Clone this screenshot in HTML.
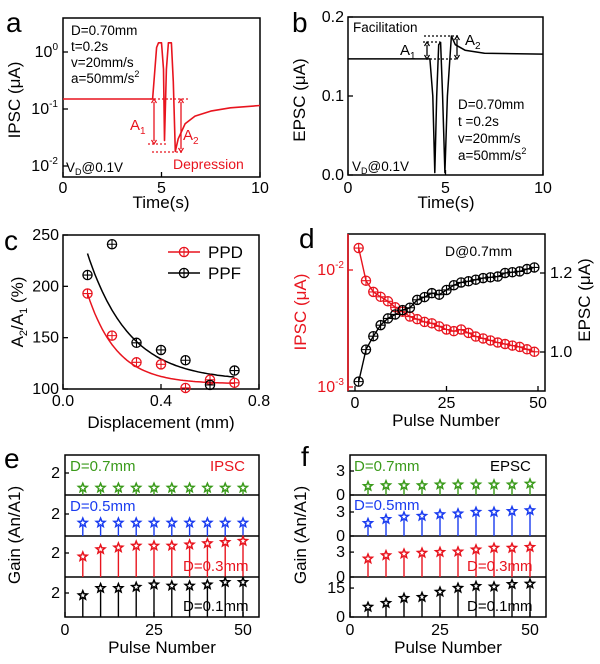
<!DOCTYPE html>
<html><head><meta charset="utf-8"><style>
html,body{margin:0;padding:0;background:#fff;}
svg{display:block;font-family:"Liberation Sans",Arial,sans-serif;}
</style></head><body>
<svg id="fig" width="600" height="664" viewBox="0 0 600 664"></svg>
<script>
// ---------- data ----------
const aTime=[0,4.55,4.75,4.85,5.0,5.1,5.15,5.25,5.35,5.5,5.6,5.7,5.85,6.2,6.7,7.5,8.5,10];
const aIPSC=[0.15,0.15,1.2,1.45,1.45,0.5,0.028,0.5,1.45,1.45,0.3,0.018,0.03,0.055,0.075,0.092,0.105,0.115];
const bTime=[0,4.2,4.35,4.45,4.55,4.65,4.75,4.85,4.97,5.1,5.3,5.5,6,7,10];
const bEPSC=[0.147,0.147,0.1,0.003,0.1,0.165,0.168,0.1,0.003,0.1,0.176,0.165,0.158,0.154,0.153];
const cDisp=[0.1,0.2,0.3,0.4,0.5,0.6,0.7];
const cPPD=[193,152,126,124,101,109,106];
const cPPF=[211,241,145,138,128,104,118];
const cFitPPD=[105,88,0.12];
const cFitPPF=[108,124,0.17];
const dPulse=[1,3,5,7,9,11,13,15,17,19,21,23,25,27,29,31,33,35,37,39,41,43,45,47,49];
const dIPSC=[0.0154,0.0081,0.0065,0.0059,0.0054,0.0048,0.0044,0.0040,0.0038,0.0036,0.0035,0.0033,0.0031,0.0030,0.0031,0.0029,0.0027,0.0026,0.0025,0.0024,0.00233,0.00226,0.0022,0.0021,0.0020];
const dEPSC=[0.925,1.006,1.04,1.068,1.085,1.095,1.106,1.112,1.132,1.139,1.149,1.145,1.157,1.169,1.176,1.179,1.183,1.187,1.189,1.191,1.2,1.202,1.204,1.21,1.214];
const gPulse=[5,10,15,20,25,30,35,40,45,50];
const eG07=[0.65,0.65,0.65,0.65,0.65,0.65,0.65,0.65,0.65,0.65];
const eG05=[1.2,1.2,1.2,1.2,1.2,1.2,1.2,1.2,1.2,1.2];
const eG03=[1.7,2.3,2.45,2.6,2.6,2.6,2.7,2.8,2.9,3.0];
const eG01=[1.8,2.4,2.4,2.5,2.7,2.6,2.6,2.7,2.9,2.9];
const fG07=[1.1,1.2,1.2,1.2,1.3,1.3,1.3,1.3,1.3,1.4];
const fG05=[1.6,2.1,2.4,2.5,2.7,2.8,3.0,3.0,3.1,3.2];
const fG03=[2.2,2.6,2.8,2.9,3.0,3.05,3.3,3.5,3.5,3.6];
const fG01=[5.2,7.2,9.8,10.3,13,15,16,15.7,17,17.2];

// ---------- helpers ----------
const NS="http://www.w3.org/2000/svg";
const svg=document.getElementById('fig');
const RED="#e8141e",GREEN="#3a9a1a",BLUE="#1a3cf0";
function el(tag,attrs,name,parent){
  const e=document.createElementNS(NS,tag);
  for(const k in attrs) e.setAttribute(k,attrs[k]);
  
  
  (parent||svg).appendChild(e);
  return e;
}
function txt(x,y,html,size,name,opt){
  opt=opt||{};
  const a={x:x,y:y,'font-size':size,fill:opt.fill||'#000','text-anchor':opt.anchor||'start'};
  if(opt.rot!==undefined) a.transform='rotate('+opt.rot+' '+x+' '+y+')';
  const t=el('text',a,name);
  t.innerHTML=html;
  return t;
}
const lin=(d0,d1,r0,r1)=>v=>r0+(v-d0)/(d1-d0)*(r1-r0);
function line(x1,y1,x2,y2,name,opt){opt=opt||{};
  return el('line',{x1:x1,y1:y1,x2:x2,y2:y2,stroke:opt.c||'#000','stroke-width':opt.w||1.3,'stroke-dasharray':opt.d||'none'},name);}
function frame(x0,y0,x1,y1,name){return el('rect',{x:x0,y:y0,width:x1-x0,height:y1-y0,fill:'none',stroke:'#000','stroke-width':1.5},name);}
function poly(xs,ys,sx,sy,color,name,w){
  const p=xs.map((x,i)=>sx(x).toFixed(1)+','+sy(ys[i]).toFixed(1)).join(' ');
  return el('polyline',{points:p,fill:'none',stroke:color,'stroke-width':w||1.6,'stroke-linejoin':'round'},name);
}
function cross(cx,cy,color,name){
  const g=el('g',{},name);
  el('circle',{cx:cx,cy:cy,r:4.6,fill:'none',stroke:color,'stroke-width':1.3},name+'-ring',g);
  el('path',{d:'M'+(cx-4.6)+' '+cy+'H'+(cx+4.6)+'M'+cx+' '+(cy-4.6)+'V'+(cy+4.6),stroke:color,'stroke-width':1.1},name+'-cross',g);
}
function star(cx,cy,color,name){
  let d='';
  for(let i=0;i<10;i++){const r=i%2?2:4.6;const a=-Math.PI/2+i*Math.PI/5;d+=(i?'L':'M')+(cx+r*Math.cos(a)).toFixed(1)+' '+(cy+r*Math.sin(a)).toFixed(1);}
  el('path',{d:d+'Z',fill:'#fff',stroke:color,'stroke-width':1.5},name);
}
function arrow(x,y1,y2,color,name){
  line(x,y1+3,x,y2-3,name,{c:color,w:1.3});
  el('path',{d:`M${x-2.5} ${y1+4}L${x} ${y1}L${x+2.5} ${y1+4}M${x-2.5} ${y2-4}L${x} ${y2}L${x+2.5} ${y2-4}`,fill:'none',stroke:color,'stroke-width':1.2},name+'-heads');
}
const TK=16, TT=17, PL=28;

// ---------- panel a ----------
txt(6,32,'a',PL,'panel-label-a');
const ax=lin(0,10,63,260); const ay=v=>52-Math.log10(v)*57;
frame(63,18,260,177,'panel-a-frame');
[0,5,10].forEach(v=>{line(ax(v),177,ax(v),172,'a-x-tick');txt(ax(v),193,v,TK,'a-x-tick-label',{anchor:'middle'});});
[0,-1,-2].forEach(p=>{line(63,ay(Math.pow(10,p)),68,ay(Math.pow(10,p)),'a-y-tick');txt(58,ay(Math.pow(10,p))+5,'10<tspan font-size="10" dy="-7">'+p+'</tspan>',TK,'a-y-tick-label',{anchor:'end'});});
poly(aTime,aIPSC,ax,ay,RED,'a-ipsc-curve');
txt(20,100,'IPSC (μA)',TT,'a-y-axis-title',{rot:-90,anchor:'middle'});
txt(161,208,'Time(s)',TT,'a-x-axis-title',{anchor:'middle'});
['D=0.70mm','t=0.2s','v=20mm/s','a=50mm/s<tspan font-size="9" dy="-6">2</tspan>'].forEach((s,i)=>txt(71,35+i*16,s,13.5,'a-condition-text'));
txt(66,172,'V<tspan font-size="9" dy="3">D</tspan><tspan dy="-3">@0.1V</tspan>',13.5,'a-vd-label');
line(150,99,188,99,'a-dotted-base',{c:RED,d:'2,2'});
line(148,144,167,144,'a-dotted-a1',{c:RED,d:'2,2'});
line(152,152,183,152,'a-dotted-a2',{c:RED,d:'2,2'});
arrow(154,99,144,RED,'a-arrow-a1');arrow(181,99,152,RED,'a-arrow-a2');
txt(130,130,'A<tspan font-size="10" dy="4">1</tspan>',15,'a-a1-label',{fill:RED});
txt(183,140,'A<tspan font-size="10" dy="4">2</tspan>',15,'a-a2-label',{fill:RED});
txt(173,169,'Depression',14,'a-depression-label',{fill:RED});

// ---------- panel b ----------
txt(292,32,'b',PL,'panel-label-b');
const bx=lin(0,10,348,543), by=lin(0,0.2,175,17);
frame(348,17,543,175,'panel-b-frame');
[0,5,10].forEach(v=>{line(bx(v),175,bx(v),170,'b-x-tick');txt(bx(v),193,v,TK,'b-x-tick-label',{anchor:'middle'});});
[0,0.1,0.2].forEach(v=>{line(348,by(v),353,by(v),'b-y-tick');txt(344,by(v)+5,v.toFixed(1),TK,'b-y-tick-label',{anchor:'end'});});
poly(bTime,bEPSC,bx,by,'#000','b-epsc-curve',1.5);
txt(305,100,'EPSC (μA)',TT,'b-y-axis-title',{rot:-90,anchor:'middle'});
txt(446,208,'Time(s)',TT,'b-x-axis-title',{anchor:'middle'});
txt(353,32,'Facilitation',13.5,'b-facilitation-label');
txt(400,55,'A<tspan font-size="10" dy="4">1</tspan>',15,'b-a1-label');
txt(465,45,'A<tspan font-size="10" dy="4">2</tspan>',15,'b-a2-label');
line(424,36,458,36,'b-dotted-a2',{d:'2,2'});line(423,42,440,42,'b-dotted-a1',{d:'2,2'});line(426,59,458,59,'b-dotted-base',{d:'2,2'});
arrow(427,42,59,'#000','b-arrow-a1');arrow(457,36,59,'#000','b-arrow-a2');
['D=0.70mm','t =0.2s','v=20mm/s','a=50mm/s<tspan font-size="9" dy="-6">2</tspan>'].forEach((s,i)=>txt(458,109+i*17,s,13.5,'b-condition-text'));
txt(352,171,'V<tspan font-size="9" dy="3">D</tspan><tspan dy="-3">@0.1V</tspan>',13.5,'b-vd-label');

// ---------- panel c ----------
txt(4,250,'c',PL,'panel-label-c');
const cx=lin(0,0.8,63,259), cy=lin(100,250,389,235);
frame(63,235,259,389,'panel-c-frame');
[0,0.4,0.8].forEach(v=>{line(cx(v),389,cx(v),384,'c-x-tick');txt(cx(v),406,v.toFixed(1),TK,'c-x-tick-label',{anchor:'middle'});});
[100,150,200,250].forEach(v=>{line(63,cy(v),68,cy(v),'c-y-tick');txt(59,cy(v)+5,v,TK,'c-y-tick-label',{anchor:'end'});});
function fitLine(p,color,name){const xs=[],ys=[];for(let x=0.1;x<=0.7001;x+=0.01){xs.push(x);ys.push(p[0]+p[1]*Math.exp(-(x-0.1)/p[2]));}poly(xs,ys,cx,cy,color,name,1.5);}
fitLine(cFitPPF,'#000','c-ppf-fit');fitLine(cFitPPD,RED,'c-ppd-fit');
cDisp.forEach((x,i)=>cross(cx(x),cy(cPPD[i]),RED,'c-ppd-point'));
cDisp.forEach((x,i)=>cross(cx(x),cy(cPPF[i]),'#000','c-ppf-point'));
line(168,252,200,252,'c-legend-ppd-line',{c:RED,w:1.6});cross(184,252,RED,'c-legend-ppd-marker');txt(208,258,'PPD',TT,'c-legend-ppd-label');
line(168,273,200,273,'c-legend-ppf-line',{w:1.6});cross(184,273,'#000','c-legend-ppf-marker');txt(208,279,'PPF',TT,'c-legend-ppf-label');
txt(23,312,'A<tspan font-size="11" dy="4">2</tspan><tspan dy="-4">/A</tspan><tspan font-size="11" dy="4">1</tspan><tspan dy="-4"> (%)</tspan>',TT,'c-y-axis-title',{rot:-90,anchor:'middle'});
txt(161,428,'Displacement (mm)',TT,'c-x-axis-title',{anchor:'middle'});

// ---------- panel d ----------
txt(299,248,'d',PL,'panel-label-d');
const dx=lin(0,50,355,538), dyL=v=>270+(-2-Math.log10(v))*117, dyR=lin(1.0,1.2,352,273);
frame(348,234,545,391,'panel-d-frame');
line(348,234,348,391,'d-left-axis',{c:RED,w:1.6});
[0,25,50].forEach(v=>{line(dx(v),391,dx(v),386,'d-x-tick');txt(dx(v),408,v,TK,'d-x-tick-label',{anchor:'middle'});});
[-2,-3].forEach(p=>{const y=dyL(Math.pow(10,p));line(348,y,353,y,'d-left-tick',{c:RED});txt(344,y+5,'10<tspan font-size="10" dy="-7">'+p+'</tspan>',TK,'d-left-tick-label',{anchor:'end',fill:RED});});
[1.0,1.2].forEach(v=>{line(540,dyR(v),545,dyR(v),'d-right-tick');txt(550,dyR(v)+5,v.toFixed(1),TK,'d-right-tick-label');});
poly(dPulse,dIPSC,dx,dyL,RED,'d-ipsc-line',1.4);
poly(dPulse,dEPSC,dx,dyR,'#000','d-epsc-line',1.4);
dPulse.forEach((p,i)=>cross(dx(p),dyL(dIPSC[i]),RED,'d-ipsc-point'));
dPulse.forEach((p,i)=>cross(dx(p),dyR(dEPSC[i]),'#000','d-epsc-point'));
txt(445,256,'D@0.7mm',14,'d-condition-label');
txt(306,312,'IPSC (μA)',TT,'d-left-axis-title',{rot:-90,anchor:'middle',fill:RED});
txt(590,300,'EPSC (μA)',TT,'d-right-axis-title',{rot:-90,anchor:'middle'});
txt(446,426,'Pulse Number',TT,'d-x-axis-title',{anchor:'middle'});

// ---------- panels e & f ----------
const tops=[455,495,536,577], bots=[495,536,577,617];
function gainPanel(pre,x0,x1,xs,series,colors,scales,ticks){
  frame(x0,455,x1,617,'panel-'+pre+'-frame');
  for(let k=1;k<4;k++) line(x0,tops[k],x1,tops[k],pre+'-subpanel-divider',{w:1.5});
  [0,25,50].forEach(v=>{line(xs(v),617,xs(v),612,pre+'-x-tick');txt(xs(v),635,v,TK,pre+'-x-tick-label',{anchor:'middle'});});
  series.forEach((vals,k)=>{
    const sy=v=>bots[k]-v*scales[k];
    ticks[k].forEach(t=>{line(x0,sy(t),x0+4,sy(t),pre+'-y-tick');txt(x0-5,sy(t)+5,t,TK,pre+'-y-tick-label',{anchor:'end'});});
    gPulse.forEach((p,i)=>{line(xs(p),bots[k],xs(p),sy(vals[i])+3,pre+'-stem',{c:colors[k],w:1.4});});
    gPulse.forEach((p,i)=>star(xs(p),sy(vals[i]),colors[k],pre+'-gain-star'));
  });
}
txt(4,468,'e',PL,'panel-label-e');
const ex=lin(0,50,65,243);
gainPanel('e',65,259,ex,[eG07,eG05,eG03,eG01],[GREEN,BLUE,RED,'#000'],[11,11,12,12],[[2],[2],[2],[2]]);
txt(70,471,'D=0.7mm',15,'e-d07-label',{fill:GREEN});
txt(210,471,'IPSC',15,'e-ipsc-label',{fill:RED});
txt(70,511,'D=0.5mm',15,'e-d05-label',{fill:BLUE});
txt(183,571,'D=0.3mm',15,'e-d03-label',{fill:RED});
txt(183,611,'D=0.1mm',15,'e-d01-label');
txt(20,535,'Gain (An/A1)',TT,'e-y-axis-title',{rot:-90,anchor:'middle'});
txt(162,653,'Pulse Number',TT,'e-x-axis-title',{anchor:'middle'});

txt(301,466,'f',PL,'panel-label-f');
const fx=lin(0,50,350,530);
gainPanel('f',350,546,fx,[fG07,fG05,fG03,fG01],[GREEN,BLUE,RED,'#000'],[8,8,8.3,1.93],[[0,3],[0,3],[0,3],[0,15]]);
txt(354,471,'D=0.7mm',15,'f-d07-label',{fill:GREEN});
txt(490,471,'EPSC',15,'f-epsc-label');
txt(354,510,'D=0.5mm',15,'f-d05-label',{fill:BLUE});
txt(467,571,'D=0.3mm',15,'f-d03-label',{fill:RED});
txt(467,611,'D=0.1mm',15,'f-d01-label');
txt(306,535,'Gain (An/A1)',TT,'f-y-axis-title',{rot:-90,anchor:'middle'});
txt(448,653,'Pulse Number',TT,'f-x-axis-title',{anchor:'middle'});
</script>
</body></html>
